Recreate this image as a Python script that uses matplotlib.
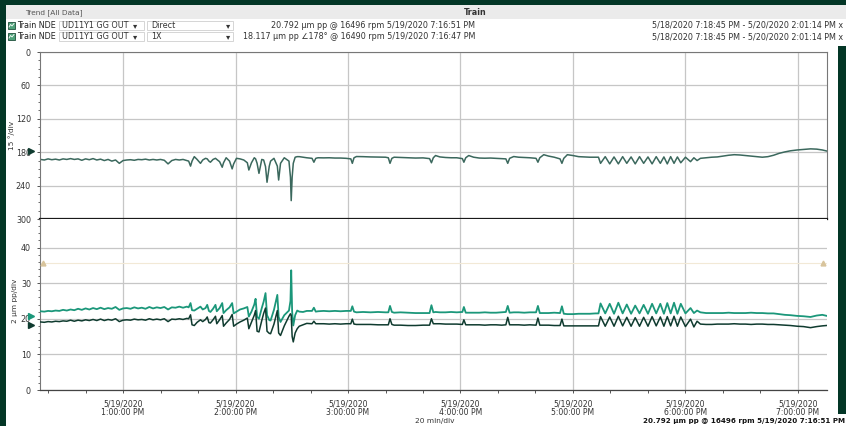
import matplotlib.pyplot as plt
from matplotlib.patches import Rectangle
from matplotlib.lines import Line2D
from matplotlib.ticker import MultipleLocator, FixedLocator, NullFormatter
from matplotlib.transforms import blended_transform_factory

W, H = 846, 426

# cursor readout (5/19/2020 7:16:51 PM)
cursor_direct = 20.792
cursor_1x = 18.117
cursor_phase = 178

# minutes after 12:00 PM, 5/19/2020
minutes = [
    16, 18, 20, 22, 24, 26, 28, 30, 32, 34, 36, 38, 40, 42, 44, 46, 48, 50, 52, 54,
    56, 58, 60, 62, 64, 66, 68, 70, 72, 74, 76, 78, 80, 82, 84, 86, 88, 90, 92, 94,
    95, 96, 96.8, 98, 99.5, 101.3, 102.5, 104, 104.9, 105.8, 106.6, 108, 109.3, 110,
    111.5, 112.9, 113.6, 115, 116.8, 118.2, 119, 120.5, 122.4, 124.4, 126.3, 127.1,
    128.5, 130, 130.7, 131.5, 132.5, 134, 135, 136, 136.8, 138, 138.7, 140.5, 142.3,
    143, 144, 146, 148.5, 149.3, 149.7, 150.2, 150.8, 151.8, 152.9,
    154, 156, 158, 160.8, 161.8, 162.8, 164, 167, 170, 173, 176, 179, 181.5, 182.3,
    183.2, 184.5, 188, 192, 196, 200, 201.5, 202.4, 203.4, 204.6, 208, 212, 216, 220,
    223.5, 224.5, 225.5, 226.7,
    229, 232, 235, 238, 241, 241.8, 242.8, 244.4, 247, 250, 253, 256, 259, 262, 264.2,
    265.2, 266.2, 268.4, 271, 274, 277, 280.3, 281.3, 282.3, 284.4, 287, 290, 293.1,
    294.1, 295.1, 297, 300, 303, 306, 309, 312,
    313.6, 314.7, 317.2, 319.6, 321.9, 324.2, 326.5, 328.7, 331.0, 333.2, 335.5, 337.7,
    340.0, 342.2, 344.4, 346.6, 348.5, 350.3, 352.1, 353.9, 355.7, 357.5, 360.0, 362.7,
    364.5, 366.2,
    368, 371, 374, 377, 380, 383, 386, 389, 392, 395, 398, 401, 404, 407, 410, 413,
    416, 419.6, 423, 426.7, 430, 433, 435.5,
]

# UD11Y1 GG OUT 1X phase, degrees
phase_deg = [
    193, 194, 192, 193.5, 192.5, 194, 192, 193, 191.5, 193, 192, 194.5, 192, 193.5,
    191.5, 194, 192.5, 195, 193, 196, 194, 200, 195, 194, 193.5, 194.5, 193, 193.5,
    192.5, 194, 193, 194, 193, 194.5, 201, 195, 193, 194, 193, 195,
    196, 205, 196, 188, 193, 200, 194, 191, 192, 196, 198, 193, 191, 193, 197, 207,
    199, 190, 196, 210, 201, 191, 192, 194, 199, 212, 199, 190, 192, 200, 218, 193,
    194, 206, 234, 205, 196, 191, 205, 230, 200, 190, 196, 225, 267, 225, 200, 189, 188,
    188, 189, 190, 191, 198, 191, 190, 190.2, 190, 190.5, 190.5, 191, 192, 200, 190,
    187.8, 188, 188.5, 188.8, 189, 190, 200, 191, 189, 189.5, 190, 190.5, 190.2, 191.5,
    199, 190, 186,
    188.5, 189.5, 190, 190, 191.5, 198, 190, 186, 189, 190.5, 190.8, 190.5, 191, 191.5,
    192, 200, 191, 187.8, 189, 189.5, 190, 191, 198, 190, 184.5, 187, 189, 192, 200,
    191, 184.5, 186, 188, 188.5, 189, 189,
    189, 200, 188, 201, 188.5, 201, 188, 200, 188.5, 201, 188, 200, 188.5, 201, 188,
    200, 188.5, 201, 188, 200, 188.5, 199, 189, 197, 190, 195,
    191, 190, 189, 188.5, 187, 185.5, 184.5, 185, 186, 187, 188, 189, 188, 185.5, 182,
    179.5, 177.5, 176, 175, 174, 174.5, 176, 178,
]

# UD11Y1 GG OUT Direct, um pp
direct_um = [
    22.1, 22.0, 22.2, 22.1, 22.3, 22.2, 22.5, 22.3, 22.6, 22.4, 22.8, 22.5, 22.9, 22.6,
    23.0, 22.7, 23.1, 22.7, 23.0, 22.8, 23.3, 22.5, 22.9, 23.0, 22.8, 23.2, 22.9, 23.1,
    22.8, 23.3, 22.9, 23.2, 23.0, 23.3, 22.6, 23.2, 23.1, 23.4, 23.1, 23.4,
    23.2, 24.4, 22.4, 22.3, 22.8, 23.4, 22.6, 23.0, 23.9, 22.2, 21.9, 22.8, 23.9, 22.1,
    23.0, 24.4, 21.6, 22.4, 23.2, 24.4, 21.5, 22.0, 22.6, 22.9, 23.3, 20.6, 22.0, 24.0,
    25.6, 20.5, 20.0, 23.0, 24.8, 27.2, 21.0, 19.6, 19.5, 22.5, 26.7, 20.5, 19.1, 21.0,
    22.3, 25.0, 33.6, 22.0, 18.1, 21.0, 22.3,
    22.0, 21.9, 22.2, 22.2, 23.1, 22.0, 22.1, 22.2, 22.1, 22.2, 22.1, 22.2, 22.2, 23.5,
    22.0, 21.8, 21.9, 21.8, 21.9, 21.8, 21.8, 23.6, 21.9, 21.7, 21.8, 21.7, 21.6, 21.6,
    21.6, 23.8, 21.8, 21.9,
    21.8, 21.8, 21.9, 21.8, 21.9, 23.3, 21.7, 21.7, 21.7, 21.7, 21.8, 21.7, 21.7, 21.8,
    21.9, 23.6, 21.7, 21.8, 21.8, 21.7, 21.8, 21.8, 23.6, 21.6, 21.6, 21.6, 21.7, 21.6,
    23.5, 21.4, 21.3, 21.3, 21.4, 21.4, 21.4, 21.5,
    21.5, 24.3, 21.5, 24.2, 21.4, 24.5, 21.5, 24.0, 21.4, 23.7, 21.5, 23.9, 21.4, 24.2,
    21.5, 24.2, 21.4, 24.4, 21.5, 24.5, 21.4, 24.2, 21.5, 23.0, 21.6, 22.3,
    21.8, 21.6, 21.6, 21.6, 21.6, 21.7, 21.6, 21.6, 21.6, 21.7, 21.6, 21.6, 21.5, 21.5,
    21.3, 21.1, 21.0, 20.8, 20.7, 20.5, 20.9, 21.1, 20.792,
]

# UD11Y1 GG OUT 1X, um pp
onex_um = [
    19.1, 19.0, 19.2, 19.1, 19.3, 19.2, 19.4, 19.3, 19.6, 19.3, 19.6, 19.4, 19.7, 19.5,
    19.8, 19.5, 19.9, 19.5, 19.8, 19.6, 20.0, 19.2, 19.6, 19.7, 19.6, 19.9, 19.7, 19.8,
    19.6, 20.0, 19.7, 19.9, 19.7, 20.0, 19.2, 19.9, 19.8, 20.0, 19.8, 20.1,
    20.0, 21.1, 18.3, 18.1, 19.0, 19.7, 19.2, 19.8, 20.5, 18.9, 18.8, 19.7, 20.7, 18.6,
    19.7, 20.9, 17.9, 18.8, 19.8, 21.2, 17.9, 18.5, 19.1, 19.6, 20.2, 17.2, 19.0, 21.0,
    22.3, 16.5, 16.3, 19.5, 21.5, 23.0, 16.5, 15.9, 15.8, 18.5, 22.3, 16.0, 15.3, 18.0,
    20.7, 21.4, 21.0, 15.0, 13.5, 16.0, 17.2,
    17.9, 18.3, 18.7, 18.6, 19.3, 18.6, 18.6, 18.6, 18.5, 18.6, 18.5, 18.6, 18.6, 19.9,
    18.5, 18.4, 18.4, 18.4, 18.3, 18.3, 18.3, 20.0, 18.4, 18.2, 18.2, 18.1, 18.1, 18.2,
    18.2, 20.0, 18.6, 18.6,
    18.6, 18.5, 18.5, 18.5, 18.4, 19.7, 18.3, 18.3, 18.3, 18.3, 18.2, 18.3, 18.3, 18.2,
    18.3, 20.4, 18.3, 18.3, 18.3, 18.2, 18.3, 18.2, 20.2, 18.2, 18.2, 18.2, 18.1, 18.1,
    19.9, 18.0, 18.0, 18.0, 18.0, 18.0, 18.0, 18.0,
    18.0, 20.6, 17.9, 20.5, 17.9, 20.7, 18.0, 20.4, 17.9, 20.3, 17.9, 20.4, 17.9, 20.6,
    18.0, 20.5, 17.9, 20.6, 18.0, 20.7, 17.9, 20.5, 17.8, 19.9, 17.7, 19.3,
    18.5, 18.4, 18.4, 18.5, 18.5, 18.5, 18.6, 18.5, 18.5, 18.4, 18.5, 18.5, 18.4, 18.4,
    18.3, 18.2, 18.1, 17.9, 17.8, 17.5, 17.8, 18.0, 18.117,
]

hour_ticks = [60, 120, 180, 240, 300, 360, 420]
hour_labels = ['5/19/2020\n%d:00:00 PM' % h for h in range(1, 8)]
alarm_level = 35.6

c_phase = '#3b685d'
c_direct = '#1b977a'
c_1x = '#0f3b2f'
c_border = '#033626'
c_grid = '#c6c6c6'
c_text = '#333333'


def fx(x):
    return x / W


def fy(y):
    return 1 - y / H


def frect(x0, y0, x1, y1, **kw):
    fig.patches.append(Rectangle((fx(x0), fy(y1)), fx(x1) - fx(x0), fy(y0) - fy(y1),
                                 transform=fig.transFigure, **kw))


fig = plt.figure(figsize=(W / 100, H / 100), dpi=100)
fig.patch.set_facecolor(c_border)

# white panel, header strip, status line
frect(6, 5, 838, 426, fc='white', ec='none', zorder=-5)
frect(6, 5, 846, 46, fc='white', ec='none', zorder=-5)
frect(600, 414, 846, 426, fc='white', ec='none', zorder=-5)
frect(6, 5, 846, 19, fc='#ebebeb', ec='none', zorder=-4)
fig.text(fx(25), fy(12.5), 'Trend [All Data]', fontsize=5.3, color='#555555', va='center')
fig.text(fx(475), fy(12.5), 'Train', fontsize=5.8, color='#333333', va='center',
         ha='center', fontweight='bold')

rows = [
    (25.5, 'Direct', '%.3f µm pp @ 16496 rpm 5/19/2020 7:16:51 PM' % cursor_direct),
    (36.5, '1X', '%.3f µm pp ∠%d° @ 16490 rpm 5/19/2020 7:16:47 PM' % (cursor_1x, cursor_phase)),
]
for yc, mode, readout in rows:
    frect(8, yc - 3.5, 15, yc + 3.5, fc='#4fa27a', ec='#1f4f3c', lw=0.6)
    fig.lines.append(Line2D([fx(9), fx(10.5), fx(12), fx(14)],
                            [fy(yc + 1.5), fy(yc - 1), fy(yc + 0.5), fy(yc - 2)],
                            transform=fig.transFigure, color='white', lw=0.6))
    fig.text(fx(17), fy(yc), 'Train NDE', fontsize=5.8, color='#222222', va='center')
    frect(59, yc - 4.5, 144, yc + 4.5, fc='white', ec='#cfcfcf', lw=0.6)
    frect(147, yc - 4.5, 233, yc + 4.5, fc='white', ec='#cfcfcf', lw=0.6)
    fig.text(fx(62), fy(yc), 'UD11Y1 GG OUT', fontsize=5.8, color='#333333', va='center')
    fig.text(fx(135), fy(yc), '▾', fontsize=6, color='#333333', va='center', ha='center')
    fig.text(fx(151), fy(yc), mode, fontsize=5.8, color='#333333', va='center')
    fig.text(fx(228), fy(yc), '▾', fontsize=6, color='#333333', va='center', ha='center')
    fig.text(fx(475), fy(yc), readout, fontsize=5.8, color='#333333', va='center', ha='right')
    fig.text(fx(843), fy(yc), '5/18/2020 7:18:45 PM - 5/20/2020 2:01:14 PM x', fontsize=5.8,
             color='#333333', va='center', ha='right')

# phase plot
ax1 = fig.add_axes([fx(40), fy(219), fx(827) - fx(40), fy(52) - fy(219)])
# amplitude plot
ax2 = fig.add_axes([fx(40), fy(390), fx(827) - fx(40), fy(219) - fy(390)])

for ax in (ax1, ax2):
    ax.set_xlim(15.7, 435.5)
    ax.xaxis.set_major_locator(FixedLocator(hour_ticks))
    ax.xaxis.set_minor_locator(MultipleLocator(20))
    ax.grid(True, which='major', color=c_grid, lw=0.9)
    ax.set_axisbelow(True)
    ax.tick_params(axis='y', which='major', direction='out', length=2.5, width=0.7,
                   color='#555555', labelsize=5.8, labelcolor=c_text, pad=4)
    ax.tick_params(axis='y', which='minor', direction='out', length=1.8, width=0.6,
                   color='#555555')

ax1.plot(minutes, phase_deg, color=c_phase, lw=1.1)
ax1.set_ylim(300, 0)
ax1.yaxis.set_major_locator(MultipleLocator(60))
ax1.yaxis.set_minor_locator(MultipleLocator(15))
ax1.tick_params(axis='x', which='both', length=0, labelbottom=False)
for side in ('top', 'right', 'left'):
    ax1.spines[side].set_color('#777777')
    ax1.spines[side].set_linewidth(0.8)
ax1.spines['bottom'].set_color('#1a1a1a')
ax1.spines['bottom'].set_linewidth(1.6)

ax2.axhline(alarm_level, color='#f2e9d6', lw=0.8, zorder=1)
ax2.plot(minutes, direct_um, color=c_direct, lw=1.3, zorder=3)
ax2.plot(minutes, onex_um, color=c_1x, lw=1.1, zorder=4)
ax2.set_ylim(0, 48)
ax2.yaxis.set_major_locator(FixedLocator([0, 10, 20, 30, 40]))
ax2.yaxis.set_minor_locator(MultipleLocator(2))
ax2.set_xticklabels(hour_labels)
ax2.xaxis.set_minor_formatter(NullFormatter())
ax2.tick_params(axis='x', which='both', direction='out', length=2.5, width=0.7,
                color='#555555', labelsize=5.6, labelcolor=c_text, pad=4)
for lbl in ax2.get_xticklabels():
    lbl.set_linespacing(0.95)
ax2.spines['top'].set_visible(False)
ax2.spines['right'].set_visible(False)
ax2.spines['left'].set_color('#777777')
ax2.spines['left'].set_linewidth(0.8)
ax2.spines['bottom'].set_color('#444444')
ax2.spines['bottom'].set_linewidth(0.9)

# alarm markers at both ends
tr2 = blended_transform_factory(ax2.transAxes, ax2.transData)
ax2.plot([0.004, 0.995], [alarm_level, alarm_level], ls='none', marker='^', ms=3.5,
         color='#d8c49c', transform=tr2, clip_on=False, zorder=5)

# cursor value markers left of the axes
tr1 = blended_transform_factory(ax1.transAxes, ax1.transData)
ax1.plot([-0.012], [cursor_phase], marker='>', ms=5, color=c_1x, transform=tr1,
         clip_on=False, zorder=6)
ax2.plot([-0.012], [cursor_direct], marker='>', ms=5, color=c_direct, transform=tr2,
         clip_on=False, zorder=6)
ax2.plot([-0.012], [cursor_1x], marker='>', ms=5, color=c_1x, transform=tr2,
         clip_on=False, zorder=6)

fig.text(fx(12), fy(135), '15 °/div', rotation=90, fontsize=5.3, color=c_text,
         ha='center', va='center')
fig.text(fx(15), fy(301), '2 µm pp/div', rotation=90, fontsize=5.3, color=c_text,
         ha='center', va='center')
fig.text(fx(415), fy(421), '20 min/div', fontsize=5.3, color=c_text, va='center')
fig.text(fx(643), fy(421), '%.3f µm pp @ 16496 rpm 5/19/2020 7:16:51 PM' % cursor_direct,
         fontsize=5.1, color='#111111', fontweight='bold', va='center', zorder=10)

fig.savefig('out.png', dpi=100, facecolor=fig.get_facecolor())
